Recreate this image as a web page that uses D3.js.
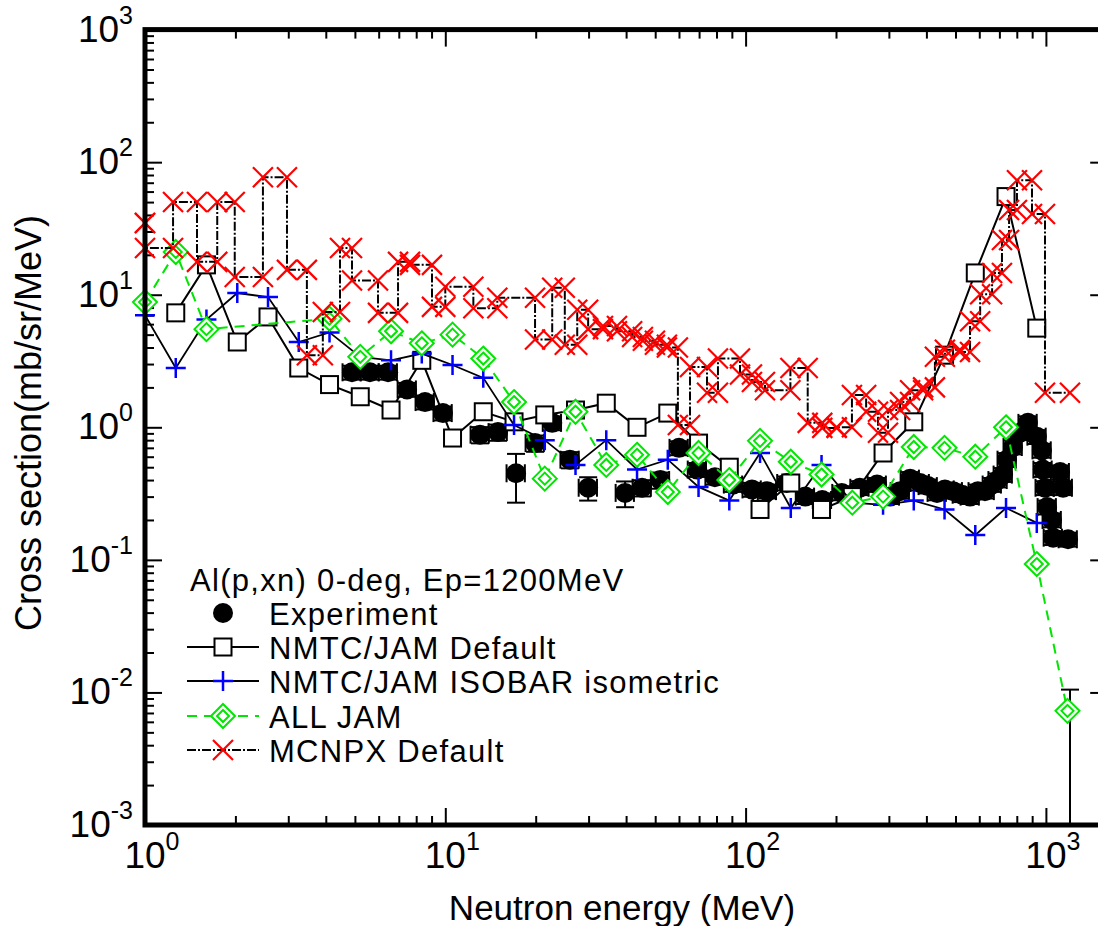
<!DOCTYPE html>
<html><head><meta charset="utf-8">
<script src="https://cdn.jsdelivr.net/npm/d3@7"></script>
<style>body{margin:0;background:#fff} text{font-family:"Liberation Sans",Arial,Helvetica,sans-serif;fill:#000}</style>
</head><body><svg id="c" width="1098" height="926"></svg>
<script>
// ---------------- DATA ----------------
const xDecades = [1, 10, 100, 1000];
const xDecadeExp = ["0", "1", "2", "3"];
const yDecades = [1e-3, 1e-2, 1e-1, 1, 10, 100, 1000];
const yDecadeExp = ["-3", "-2", "-1", "0", "1", "2", "3"];
const xTitle = "Neutron energy (MeV)";
const yTitle = "Cross section(mb/sr/MeV)";
const legendTitle = "Al(p,xn) 0-deg, Ep=1200MeV";
const seriesNames = ["Experiment", "NMTC/JAM Default", "NMTC/JAM ISOBAR isometric", "ALL JAM", "MCNPX Default"];

// Experiment
const expE = [4.89,5.61,6.45,7.46,8.56,9.82,13.05,14.98,17.2,19.9,22.7,26.0,29.9,39.7,45.2,52,60,69,79,91,105,118,137,158,180,209,240,274,303,327,353,381,405,434,461,491,526,559,594,627,662,692,720,742,777,820,871,933,970,977,993,1009,1048,1057,1115,1141,1185];
const expV = [2.6,2.6,2.6,1.93,1.55,1.28,0.88,0.92,0.45,0.76,1.08,0.57,0.35,0.32,0.35,0.40,0.70,0.48,0.42,0.37,0.34,0.33,0.38,0.30,0.283,0.32,0.35,0.37,0.30,0.33,0.41,0.38,0.36,0.32,0.34,0.33,0.31,0.30,0.33,0.33,0.37,0.40,0.44,0.57,0.71,0.91,1.08,0.85,0.67,0.48,0.35,0.25,0.20,0.147,0.46,0.35,0.143];
const expErr = [0.12,0.12,0.12,0.12,0.12,0.12,0.14,0.14,0.4,0.14,0.12,0.14,0.2,0.22,0.14,0.14,0.12,0.12,0.12,0.12,0.12,0.12,0.12,0.12,0.12,0.12,0.12,0.12,0.12,0.12,0.12,0.12,0.12,0.12,0.12,0.12,0.12,0.12,0.12,0.12,0.12,0.12,0.12,0.12,0.12,0.12,0.12,0.12,0.12,0.12,0.12,0.12,0.12,0.12,0.12,0.12,0.12];
const expBinHalf = 0.07;           // relative half bin width in energy
const expLimitE = [1203];          // point with only an upper error bar
const expLimitHi = [0.0105];

// Model energy grid
const gridE = [1.0,1.266,1.602,2.029,2.568,3.251,4.116,5.21,6.596,8.35,10.57,13.38,16.94,21.44,27.14,34.36,43.5,55.07,69.71,88.25,111.7,141.4,179,226.6,286.9,363.1,459.7,581.9,736.6,932.5,1180];

// NMTC/JAM Default
const defE = gridE.slice(1, 30);
const defV = [7.3,16.8,4.4,6.8,2.8,2.1,1.7,1.35,3.2,0.83,1.31,1.1,1.24,1.35,1.52,1.0,1.28,0.76,0.50,0.24,0.38,0.24,0.30,0.64,1.1,3.5,14.6,55,5.6];

// NMTC/JAM ISOBAR isometric
const isoE = gridE.slice(0, 30);
const isoV = [7.0,2.8,6.5,10.3,9.6,4.4,5.2,3.4,3.2,3.6,2.95,2.36,1.04,0.80,0.52,0.80,0.48,0.57,0.355,0.28,0.64,0.246,0.52,0.27,0.26,0.28,0.24,0.154,0.246,0.19];

// ALL JAM
const jamE = [1.0,1.266,1.602,4.116,5.21,6.596,8.35,10.57,13.38,16.94,21.44,27.14,34.36,43.5,55.07,69.71,88.25,111.7,141.4,179,226.6,286.9,363.1,459.7,581.9,736.6,932.5,1180];
const jamV = [8.8,21,5.5,6.6,3.4,5.3,4.3,5.0,3.3,1.55,0.41,1.31,0.52,0.62,0.325,0.64,0.40,0.79,0.55,0.44,0.27,0.30,0.71,0.70,0.60,1.0,0.093,0.00726];

// MCNPX Default (histogram bins)
const mcLo = [1.0,1.0,1.24,1.49,1.74,1.99,2.47,2.97,3.46,3.91,4.46,4.89,5.97,6.96,7.63,9.03,10.0,12.4,14.9,19.9,22.7,25.0,27.5,29.9,33.5,37.3,41.9,45.5,49.9,54.7,59.5,65.3,74.4,80.9,95.8,105,116,141,161,180,201,226,252,276,298,327,353,390,427,461,517,559,604,662,714,754,801,899,993];
const mcHi = [1.0,1.24,1.49,1.74,1.99,2.47,2.97,3.46,3.91,4.46,4.89,5.97,6.96,7.63,9.03,10.0,12.4,14.9,19.9,22.7,25.0,27.5,29.9,33.5,37.3,41.9,45.5,49.9,54.7,59.5,65.3,74.4,80.9,95.8,105,116,141,161,180,201,226,252,276,298,327,353,390,427,461,517,559,604,662,714,754,801,899,993,1203];
const mcV = [34.8,22.5,50,17.7,50,13.6,77,15.4,3.5,7.4,22.5,12.8,7.3,17.7,16.8,8.1,11.5,7.9,9.5,4.6,11.3,4.2,7.7,5.5,5.8,5.3,4.8,4.5,4.2,4.0,1.04,2.85,1.82,3.3,2.5,2.2,1.9,2.8,1.08,0.99,1.0,1.75,1.31,0.91,1.35,1.55,1.9,2.0,3.4,3.84,3.7,6.3,10.1,14.6,25.9,43.6,73,40.7,1.82];

// ---------------- CHART ----------------
const svg = d3.select('#c');
const x = d3.scaleLog().domain([1, 1600]).range([145, 145 + 300.3 * Math.log10(1600)]);
const y = d3.scaleLog().domain([1e-3, 1e3]).range([825, 29.6]);
const X0 = x.range()[0], X1 = x.range()[1], Y0 = y.range()[0], Y1 = y.range()[1];

const GREEN = '#00e600';
svg.append('defs').append('clipPath').attr('id', 'clip')
  .append('rect').attr('x', X0).attr('y', Y1).attr('width', X1 - X0).attr('height', Y0 - Y1);

function minors(decs, lo, hi) {
  const out = [];
  decs.forEach(d => { for (let m = 2; m <= 9; m++) { const v = m * d; if (v > lo && v < hi) out.push(v); } });
  return out;
}
const xMinor = minors([1, 10, 100, 1000], 1, 1600);
const yMinor = minors([1e-3, 1e-2, 1e-1, 1, 10, 100], 1e-3, 1e3);

function axisG(gen, tr, vals, len) {
  const g = svg.append('g').attr('transform', tr)
    .call(gen.tickValues(vals).tickSize(-len).tickFormat(''));
  g.select('.domain').remove();
  g.selectAll('.tick line').attr('stroke', '#000').attr('stroke-width', 2);
}
axisG(d3.axisBottom(x), `translate(0,${Y0})`, xDecades, 17);
axisG(d3.axisBottom(x), `translate(0,${Y0})`, xMinor, 9);
axisG(d3.axisTop(x), `translate(0,${Y1})`, xDecades, 17);
axisG(d3.axisTop(x), `translate(0,${Y1})`, xMinor, 9);
axisG(d3.axisLeft(y), `translate(${X0},0)`, yDecades, 17);
axisG(d3.axisLeft(y), `translate(${X0},0)`, yMinor, 9);
axisG(d3.axisRight(y), `translate(${X1},0)`, yDecades, 17);
axisG(d3.axisRight(y), `translate(${X1},0)`, yMinor, 9);

// tick labels
xDecades.forEach((v, i) => {
  const t = svg.append('text').attr('y', 868);
  const a = t.append('tspan').attr('font-size', 37).text('10');
  t.append('tspan').attr('font-size', 25).attr('dy', -18).text(xDecadeExp[i]);
  const w = a.node().getComputedTextLength();
  t.attr('x', x(v) - w / 2);
});
yDecades.forEach((v, i) => {
  const t = svg.append('text').attr('x', 133).attr('y', y(v) + 12).attr('text-anchor', 'end');
  t.append('tspan').attr('font-size', 37).text('10');
  t.append('tspan').attr('font-size', 25).attr('dy', -18).text(yDecadeExp[i]);
});

// titles
svg.append('text').attr('x', 622).attr('y', 920).attr('text-anchor', 'middle').attr('font-size', 35).text(xTitle);
svg.append('text').attr('transform', 'translate(41,423) rotate(-90)').attr('text-anchor', 'middle').attr('font-size', 36).text(yTitle);

// ---- marker shapes
function mk(g, type, cx, cy) {
  if (type === 'circle') g.append('circle').attr('cx', cx).attr('cy', cy).attr('r', 10).attr('fill', '#000');
  else if (type === 'square') g.append('rect').attr('x', cx - 8.5).attr('y', cy - 8.5).attr('width', 17).attr('height', 17)
    .attr('fill', '#fff').attr('stroke', '#000').attr('stroke-width', 2);
  else if (type === 'plus') g.append('path').attr('d', `M${cx - 10},${cy}H${cx + 10}M${cx},${cy - 10}V${cy + 10}`)
    .attr('stroke', '#0000ff').attr('stroke-width', 2.5).attr('fill', 'none');
  else if (type === 'diamond') {
    g.append('path').attr('d', `M${cx},${cy - 12}L${cx + 12},${cy}L${cx},${cy + 12}L${cx - 12},${cy}Z`)
      .attr('fill', '#fff').attr('stroke', GREEN).attr('stroke-width', 2);
    g.append('path').attr('d', `M${cx},${cy - 6}L${cx + 6},${cy}L${cx},${cy + 6}L${cx - 6},${cy}Z`)
      .attr('fill', 'none').attr('stroke', GREEN).attr('stroke-width', 2);
  } else if (type === 'cross') g.append('path').attr('d', `M${cx - 10},${cy - 10}L${cx + 10},${cy + 10}M${cx - 10},${cy + 10}L${cx + 10},${cy - 10}`)
    .attr('stroke', '#ff0000').attr('stroke-width', 2.2).attr('fill', 'none');
}

const line = d3.line().x(d => x(d[0])).y(d => y(d[1]));
const zip = (a, b) => a.map((v, i) => [v, b[i]]);

// ---- Experiment
const gExp = svg.append('g').attr('clip-path', 'url(#clip)');
const expPts = expE.map((e, i) => ({ e, v: expV[i], err: expErr[i] }));
expPts.forEach(p => {
  const cx = x(p.e), cy = y(p.v);
  const xl = x(p.e * (1 - expBinHalf)), xh = x(p.e * (1 + expBinHalf));
  const yl = y(p.v * (1 - p.err)), yh = y(p.v * (1 + p.err));
  const seg = (x1, y1, x2, y2) => gExp.append('line').attr('x1', x1).attr('y1', y1).attr('x2', x2).attr('y2', y2)
    .attr('stroke', '#000').attr('stroke-width', 2);
  seg(xl, cy, xh, cy); seg(xl, cy - 9, xl, cy + 9); seg(xh, cy - 9, xh, cy + 9);
  seg(cx, yl, cx, yh); seg(cx - 9, yl, cx + 9, yl); seg(cx - 9, yh, cx + 9, yh);
});
expPts.forEach(p => mk(gExp, 'circle', x(p.e), y(p.v)));
expLimitE.forEach((e, i) => {
  const cx = x(e);
  gExp.append('line').attr('x1', cx).attr('x2', cx).attr('y1', y(expLimitHi[i])).attr('y2', Y0).attr('stroke', '#000').attr('stroke-width', 2);
  gExp.append('line').attr('x1', cx - 9).attr('x2', cx + 9).attr('y1', y(expLimitHi[i])).attr('y2', y(expLimitHi[i])).attr('stroke', '#000').attr('stroke-width', 2);
});

// ---- NMTC/JAM Default
const gDef = svg.append('g');
gDef.append('path').attr('clip-path', 'url(#clip)').attr('d', line(zip(defE, defV))).attr('fill', 'none').attr('stroke', '#000').attr('stroke-width', 2);
defE.forEach((e, i) => mk(gDef, 'square', x(e), y(defV[i])));

// ---- ISOBAR
const gIso = svg.append('g');
gIso.append('path').attr('clip-path', 'url(#clip)').attr('d', line(zip(isoE, isoV))).attr('fill', 'none').attr('stroke', '#000').attr('stroke-width', 1.8);
isoE.forEach((e, i) => mk(gIso, 'plus', x(e), y(isoV[i])));

// ---- ALL JAM
const gJam = svg.append('g');
gJam.append('path').attr('clip-path', 'url(#clip)').attr('d', line(zip(jamE, jamV))).attr('fill', 'none').attr('stroke', GREEN).attr('stroke-width', 2).attr('stroke-dasharray', '10,7');
jamE.forEach((e, i) => mk(gJam, 'diamond', x(e), y(jamV[i])));

// ---- MCNPX
const mcPts = [];
mcLo.forEach((lo, i) => { mcPts.push([lo, mcV[i]]); mcPts.push([mcHi[i], mcV[i]]); });
const gMc = svg.append('g');
gMc.append('path').attr('clip-path', 'url(#clip)').attr('d', line(mcPts)).attr('fill', 'none').attr('stroke', '#000').attr('stroke-width', 2).attr('stroke-dasharray', '9,2,2,2');
mcPts.forEach(p => mk(gMc, 'cross', x(p[0]), y(p[1])));

// ---- frame
svg.append('rect').attr('x', X0).attr('y', Y1).attr('width', X1 - X0).attr('height', Y0 - Y1)
  .attr('fill', 'none').attr('stroke', '#000').attr('stroke-width', 5);

// ---- legend
const lg = svg.append('g');
lg.append('text').attr('x', 190).attr('y', 591).attr('font-size', 31).attr('letter-spacing', 1.3).text(legendTitle);
const rows = [
  { type: 'circle', line: null },
  { type: 'square', line: { stroke: '#000', dash: null, w: 2 } },
  { type: 'plus', line: { stroke: '#000', dash: null, w: 1.8 } },
  { type: 'diamond', line: { stroke: GREEN, dash: '10,7', w: 2 } },
  { type: 'cross', line: { stroke: '#000', dash: '9,2,2,2', w: 2 } }
];
const rowBase = [625, 659, 693, 728, 762];
rows.forEach((r, i) => {
  const cy = rowBase[i] - 12;
  if (r.line) {
    const l = lg.append('line').attr('x1', 187).attr('x2', 259).attr('y1', cy).attr('y2', cy)
      .attr('stroke', r.line.stroke).attr('stroke-width', r.line.w);
    if (r.line.dash) l.attr('stroke-dasharray', r.line.dash);
  }
  mk(lg, r.type, 223, cy);
  lg.append('text').attr('x', 269).attr('y', rowBase[i]).attr('font-size', 31).attr('letter-spacing', 1.3).text(seriesNames[i]);
});
</script></body></html>
